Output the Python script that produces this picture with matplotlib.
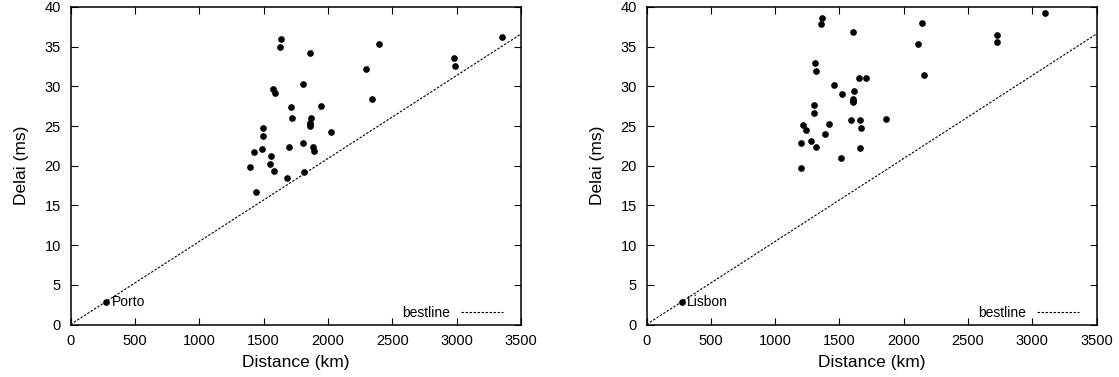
import matplotlib.pyplot as plt
import numpy as np

plt.rcParams['font.family'] = ['Liberation Sans', 'DejaVu Sans']

# bestline: delay (ms) per km
best_slope = 36.6 / 3500

# left panel (Porto)
porto_dist = [1634, 1629, 1859, 2395, 3350, 2980, 2985, 2294, 1575, 1585,
              1805, 2346, 1710, 1945, 1722, 1865, 1859, 1859, 1862, 1497,
              1492, 2025, 1422, 1484, 1696, 1805, 1885, 1893, 1557, 1391,
              1549, 1583, 1813, 1683, 1438]
porto_delay = [36.0, 34.95, 34.2, 35.4, 36.25, 33.6, 32.6, 32.2, 29.7, 29.15,
               30.25, 28.4, 27.4, 27.5, 26.0, 26.05, 25.4, 25.2, 25.0, 24.7,
               23.8, 24.2, 21.7, 22.1, 22.4, 22.9, 22.4, 21.8, 21.2, 19.9,
               20.2, 19.3, 19.25, 18.4, 16.65]
porto_origin = (276, 2.87)

# right panel (Lisbon)
lisbon_dist = [1362, 1356, 1603, 2141, 3100, 2724, 2729, 2108, 1310, 1320,
               2159, 1654, 1711, 1460, 1522, 1615, 1607, 1607, 1607, 1304,
               1300, 1589, 1662, 1861, 1665, 1216, 1242, 1421, 1385, 1281,
               1320, 1662, 1198, 1514, 1198]
lisbon_delay = [38.6, 37.85, 36.9, 37.97, 39.2, 36.5, 35.6, 35.3, 33.0, 31.9,
                31.4, 31.05, 31.05, 30.2, 29.0, 29.4, 28.45, 28.2, 28.0, 27.6,
                26.7, 25.8, 25.75, 25.9, 24.8, 25.1, 24.45, 25.25, 24.0, 23.1,
                22.3, 22.2, 22.85, 21.0, 19.75]
lisbon_origin = (274, 2.87)

W, H = 1119, 377
fig = plt.figure(figsize=(W / 100, H / 100), dpi=100)
ax1 = fig.add_axes([70.5 / W, 1 - 324.5 / H, 450.5 / W, 317.5 / H])
ax2 = fig.add_axes([646.5 / W, 1 - 324.5 / H, 450 / W, 317.5 / H])

panels = [(ax1, porto_dist, porto_delay, porto_origin, 'Porto'),
          (ax2, lisbon_dist, lisbon_delay, lisbon_origin, 'Lisbon')]

for ax, dist, delay, origin, name in panels:
    ax.plot(dist, delay, 'o', color='black', markersize=3.8, linestyle='none')
    ax.plot([origin[0]], [origin[1]], 'o', color='black', markersize=3.8)
    ax.annotate(name, origin, xytext=(4, 0), textcoords='offset points',
                va='center', ha='left', fontsize=10)
    xs = np.array([0, 3500])
    ax.plot(xs, best_slope * xs, color='black', linestyle=(0, (2.2, 1.4)),
            linewidth=0.8, label='bestline')
    ax.set_xlim(0, 3500)
    ax.set_ylim(0, 40)
    ax.set_xticks(np.arange(0, 3501, 500))
    ax.set_yticks(np.arange(0, 41, 5))
    ax.tick_params(direction='in', length=5, width=0.8, top=True, right=True,
                   labelsize=10.5, pad=7, colors='black')
    for s in ax.spines.values():
        s.set_linewidth(1.1)
    ax.set_xlabel('Distance (km)', fontsize=12.5, labelpad=5)
    ax.set_ylabel('Delai (ms)', fontsize=12.5, labelpad=11)
    ax.legend(loc='lower right', frameon=False, markerfirst=False,
              fontsize=10, handlelength=3.0, borderaxespad=0,
              bbox_to_anchor=(1 - 0.0275, -0.003))

fig.savefig('out.png', dpi=100)
